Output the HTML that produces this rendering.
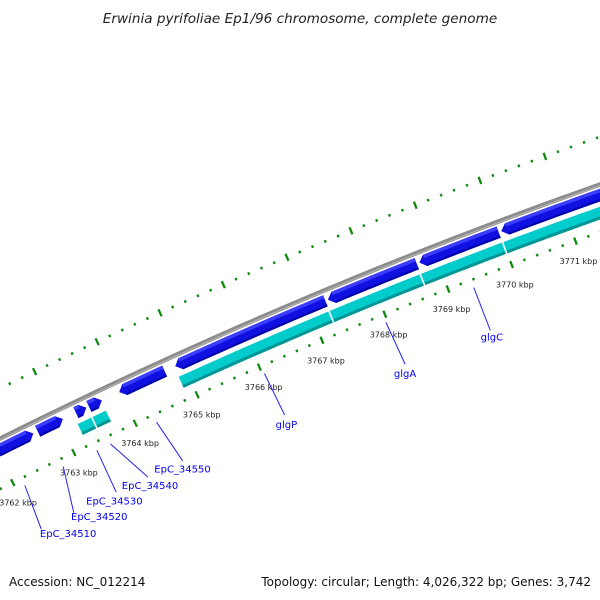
<!DOCTYPE html>
<html><head><meta charset="utf-8">
<style>
html,body{margin:0;padding:0;background:#fff;}
svg{display:block;font-family:"DejaVu Sans","Liberation Sans",sans-serif;}
</style></head>
<body>
<svg id="map" width="600" height="600" viewBox="0 0 600 600" xmlns="http://www.w3.org/2000/svg">
<rect x="0" y="0" width="600" height="600" fill="#fff"/>
<text x="300" y="23" text-anchor="middle" font-size="13.6" font-style="italic" fill="#222">Erwinia pyrifoliae Ep1/96 chromosome, complete genome</text>
<g id="ticks"></g>
<g id="backbone"></g>
<g id="genes"></g>
<g id="labels"></g>
<text x="9" y="586" font-size="12" fill="#111">Accession: NC_012214</text>
<text x="591" y="586" text-anchor="end" font-size="12" fill="#111">Topology: circular; Length: 4,026,322 bp; Genes: 3,742</text>
</svg>
<script>
// gene data (kbp)
const fwdStarts = [3762.00, 3762.65, 3763.27, 3763.48, 3763.97, 3764.87, 3767.30, 3768.74, 3770.02];
const fwdEnds   = [3762.60, 3763.08, 3763.46, 3763.71, 3764.72, 3767.28, 3768.72, 3770.00, 3772.60];
const fwdDirs   = [1, 1, 1, 1, -1, -1, -1, -1, -1];
const revStarts = [3763.22, 3763.46, 3764.85, 3767.26, 3768.70, 3769.99];
const revEnds   = [3763.46, 3763.70, 3767.26, 3768.70, 3769.99, 3772.60];
const labelNames = ["EpC_34510","EpC_34520","EpC_34530","EpC_34540","EpC_34550","glgP","glgA","glgC"];
const labelGeneKbp = [3762.14, 3762.77, 3763.32, 3763.54, 3764.29, 3766.03, 3767.97, 3769.36];
const labelEndKbp  = [3762.07, 3762.61, 3763.31, 3763.83, 3764.40, 3766.06, 3768.00, 3769.36];
const labelTextKbp = [3762.40, 3762.93, 3763.23, 3763.81, 3764.35, 3766.03, 3767.95, 3769.35];
const labelTextR   = [5166, 5168, 5175, 5174, 5175, 5173, 5174, 5176];
const tickLabels = [3762,3763,3764,3765,3766,3767,3768,3769,3770,3771,3772];
const tickRange = [3761.6, 3773.2];

const NS="http://www.w3.org/2000/svg";
const CX=2356, CY=5165;
function ang(k){return (-114.35+(k-3765)*0.745)*Math.PI/180;}
function pt(k,r){const a=ang(k);return [CX+r*Math.cos(a), CY+r*Math.sin(a)];}
function mk(tag,attrs,parent){const e=document.createElementNS(NS,tag);for(const k in attrs)e.setAttribute(k,attrs[k]);parent.appendChild(e);return e;}
function arcPts(k1,k2,r){const n=Math.max(2,Math.ceil(Math.abs(k2-k1)/0.2));const out=[];for(let i=0;i<=n;i++){out.push(pt(k1+(k2-k1)*i/n,r));}return out;}
function poly(points){return points.map(p=>p[0].toFixed(2)+","+p[1].toFixed(2)).join(" ");}

// backbone
const bb=document.getElementById('backbone');
const bbLine=mk('polyline',{points:poly(arcPts(3761,3774,5281)),fill:'none',stroke:'#8c8c8c','stroke-width':4.5},bb);


const bbHi=mk('polyline',{points:poly(arcPts(3761,3774,5280)),fill:'none',stroke:'#b0b0b0','stroke-width':1.2},bb);



// ticks
const tg=document.getElementById('ticks');
const nT=Math.round((tickRange[1]-tickRange[0])/0.2);
for(let i=0;i<=nT;i++){
  const k=Math.round((tickRange[0]+i*0.2)*10)/10;
  const major=Math.abs(k-Math.round(k))<1e-6;
  [5326,5236].forEach(r=>{
    const len=major?3.8:1.3;
    const p1=pt(k,r-len),p2=pt(k,r+len);
    const l=mk('line',{x1:p1[0],y1:p1[1],x2:p2[0],y2:p2[1],stroke:'#0f8a0f','stroke-width':2.3},tg);
    
    
  });
}
tickLabels.forEach(k=>{
  const p=pt(k-0.06,5216);
  const t=mk('text',{x:p[0],y:p[1]+3,'text-anchor':'middle','font-size':8,fill:'#222'},tg);
  t.textContent=k+" kbp";
  
  
});

// genes
const gg=document.getElementById('genes');
const H=0.09;
fwdStarts.forEach((s,i)=>{
  const e=fwdEnds[i]-0.01, s2=s+0.01, d=fwdDirs[i];
  const rO=5277,rI=5265,rM=5271;
  let pts;
  if(d<0){
    pts=[pt(s2,rM)].concat(arcPts(s2+H,e,rO),arcPts(e,s2+H,rI));
  }else{
    pts=arcPts(s2,e-H,rO).concat([pt(e,rM)],arcPts(e-H,s2,rI));
  }
  const g=mk('polygon',{points:poly(pts),fill:'#1010e0'},gg);
  
  
  const a1=d<0?s2+H:s2, a2=d<0?e:e-H;
  const hi=mk('polygon',{points:poly(arcPts(a1,a2,rO).concat(arcPts(a2,a1,rO-3.5))),fill:'#3c3cff'},gg);
  
  
  const sh=mk('polygon',{points:poly(arcPts(a1,a2,rI+2).concat(arcPts(a2,a1,rI))),fill:'#0000a8'},gg);
  
  
});
revStarts.forEach((s,i)=>{
  const s2=s+0.012, e=revEnds[i]-0.012;
  const g=mk('polygon',{points:poly(arcPts(s2,e,5260).concat(arcPts(e,s2,5248))),fill:'#00cccc'},gg);
  
  
  const sh=mk('polygon',{points:poly(arcPts(s2,e,5251).concat(arcPts(e,s2,5248))),fill:'#009595'},gg);
  
  
});

// labels
const lg=document.getElementById('labels');
labelNames.forEach((n,i)=>{
  const p1=pt(labelGeneKbp[i],5228), p2=pt(labelEndKbp[i],5182);
  const l=mk('line',{x1:p1[0],y1:p1[1],x2:p2[0],y2:p2[1],stroke:'#2222ee','stroke-width':1},lg);
  
  
  const tp=pt(labelTextKbp[i],labelTextR[i]);
  const t=mk('text',{x:tp[0],y:tp[1]+4,'text-anchor':'middle','font-size':10,fill:'#0000ee'},lg);
  t.textContent=n;
  
  
});
</script>
</body></html>
